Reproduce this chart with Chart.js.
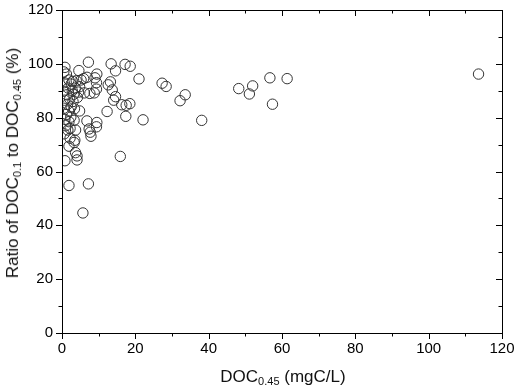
<!DOCTYPE html>
<html>
<head>
<meta charset="utf-8">
<script src="https://cdn.jsdelivr.net/npm/chart.js@4/dist/chart.umd.min.js"></script>
<style>
  body { margin: 0; background: #fff; }
  #wrap { position: relative; width: 517px; height: 392px; }
  .title { position: absolute; font-family: Arial, "Liberation Sans", sans-serif; font-size: 17px; color: #111; white-space: nowrap; }
  .title sub { font-size: 11px; vertical-align: -3px; }
  #xtitle { left: 283px; top: 367px; transform: translateX(-50%); }
  #ytitle { left: 13px; top: 163px; transform: translate(-50%, -50%) rotate(-90deg); }
</style>
</head>
<body>
<div id="wrap">
  <canvas id="graph" width="517" height="392"></canvas>
  <div class="title" id="xtitle">DOC<sub>0.45</sub> (mgC/L)</div>
  <div class="title" id="ytitle">Ratio of DOC<sub>0.1</sub> to DOC<sub>0.45</sub> (%)</div>
</div>
<script>
// DOC0.45 (mgC/L)
const docValues = [
  113.6, 61.4, 56.7, 57.4, 52.0, 51.1, 48.2, 38.1, 33.6, 32.2, 28.4, 27.3, 22.1, 21.0,
  18.6, 17.2, 18.5, 17.5, 16.3, 17.4, 15.9, 14.6, 13.4, 14.6, 14.1, 13.7, 13.2, 12.6,
  12.3, 9.5, 9.0, 9.4, 9.4, 8.8, 9.5, 9.4, 7.2, 6.8, 5.9, 5.2, 3.9, 4.6, 7.6, 6.1,
  6.8, 7.4, 7.7, 7.9, 3.7, 3.5, 4.8, 1.9, 3.7, 4.1, 4.1, 0.8, 1.9, 7.2, 5.7,
  0.8, 0.5, 1.2, 1.9, 0.6, 2.5, 1.7, 0.4, 2.8, 1.3, 3.2, 2.1, 0.7, 4.2, 3.0, 1.5,
  2.5, 0.5, 1.8, 3.4, 1.2, 2.4, 0.8, 1.9, 3.3, 1.0, 2.2, 1.6, 0.6, 2.2, 3.3, 2.9,
  4.8, 4.5, 3.6
];
// ratio of DOC0.1 to DOC0.45 (%)
const ratioValues = [
  96.2, 94.5, 94.8, 85.0, 91.8, 88.8, 90.8, 79.0, 88.5, 86.3, 91.6, 92.8, 79.2, 94.4,
  99.1, 99.8, 85.2, 84.6, 84.8, 80.5, 65.6, 97.4, 100.0, 87.8, 86.5, 90.3, 93.3, 92.2,
  82.3, 96.2, 94.8, 93.0, 90.6, 89.2, 78.2, 76.6, 100.6, 95.0, 94.5, 94.0, 93.7, 97.5, 89.0, 89.2,
  78.8, 75.8, 74.6, 73.1, 75.4, 71.6, 82.5, 69.4, 67.0, 65.8, 64.3, 64.0, 54.8, 55.4, 44.6,
  98.7, 97.0, 96.2, 94.0, 93.0, 92.5, 91.0, 89.8, 90.0, 88.5, 88.7, 87.0, 86.5, 87.5, 86.0, 85.0,
  84.0, 83.5, 82.5, 83.3, 81.2, 80.2, 79.4, 78.5, 79.0, 77.0, 76.0, 75.4, 74.0, 72.4, 70.8, 93.5,
  91.5, 89.5, 91.0
];
const xTicks = [0, 20, 40, 60, 80, 100, 120];
const yTicks = [0, 20, 40, 60, 80, 100, 120];

const points = docValues.map((x, i) => ({ x: x, y: ratioValues[i] }));

// axis frame with major/minor ticks (outward on left/bottom, inward on right/top)
const framePlugin = {
  id: 'frame',
  afterDraw(chart) {
    const ctx = chart.ctx;
    const xs = chart.scales.x, ys = chart.scales.y;
    const a = chart.chartArea;
    ctx.save();
    ctx.strokeStyle = '#000';
    ctx.lineWidth = 1;
    ctx.strokeRect(Math.round(a.left) + 0.5, Math.round(a.top) + 0.5,
                   Math.round(a.right - a.left), Math.round(a.bottom - a.top));
    ctx.beginPath();
    for (let v = 0; v <= 120; v += 10) {
      const len = v % 20 === 0 ? 6 : 3.5;
      const px = Math.round(xs.getPixelForValue(v)) + 0.5;
      ctx.moveTo(px, a.bottom); ctx.lineTo(px, a.bottom + len);
      ctx.moveTo(px, a.top); ctx.lineTo(px, a.top + len);
      const py = Math.round(ys.getPixelForValue(v)) + 0.5;
      ctx.moveTo(a.left, py); ctx.lineTo(a.left - len, py);
      ctx.moveTo(a.right, py); ctx.lineTo(a.right - len, py);
    }
    ctx.stroke();
    ctx.restore();
  }
};

const tickFont = { family: 'Arial, "Liberation Sans", sans-serif', size: 15 };

new Chart(document.getElementById('graph').getContext('2d'), {
  type: 'scatter',
  data: {
    datasets: [{
      data: points,
      pointStyle: 'circle',
      pointRadius: 5.2,
      pointBorderWidth: 1,
      pointBorderColor: '#333',
      pointBackgroundColor: 'rgba(0,0,0,0)'
    }]
  },
  options: {
    responsive: false,
    animation: false,
    layout: { padding: { top: 10, right: 15, left: 0, bottom: 0 } },
    plugins: { legend: { display: false }, tooltip: { enabled: false } },
    scales: {
      x: {
        type: 'linear', min: 0, max: 120,
        afterBuildTicks: s => { s.ticks = xTicks.map(v => ({ value: v })); },
        afterFit: s => { s.height = 59; s.paddingLeft = 0; s.paddingRight = 0; },
        grid: { display: false, drawTicks: false },
        border: { display: false },
        ticks: { color: '#000', font: tickFont, padding: 7, maxRotation: 0 }
      },
      y: {
        type: 'linear', min: 0, max: 120,
        afterBuildTicks: s => { s.ticks = yTicks.map(v => ({ value: v })); },
        afterFit: s => { s.width = 62; s.paddingTop = 0; s.paddingBottom = 0; },
        grid: { display: false, drawTicks: false },
        border: { display: false },
        ticks: { color: '#000', font: tickFont, padding: 9 }
      }
    }
  },
  plugins: [framePlugin]
});
</script>
</body>
</html>
